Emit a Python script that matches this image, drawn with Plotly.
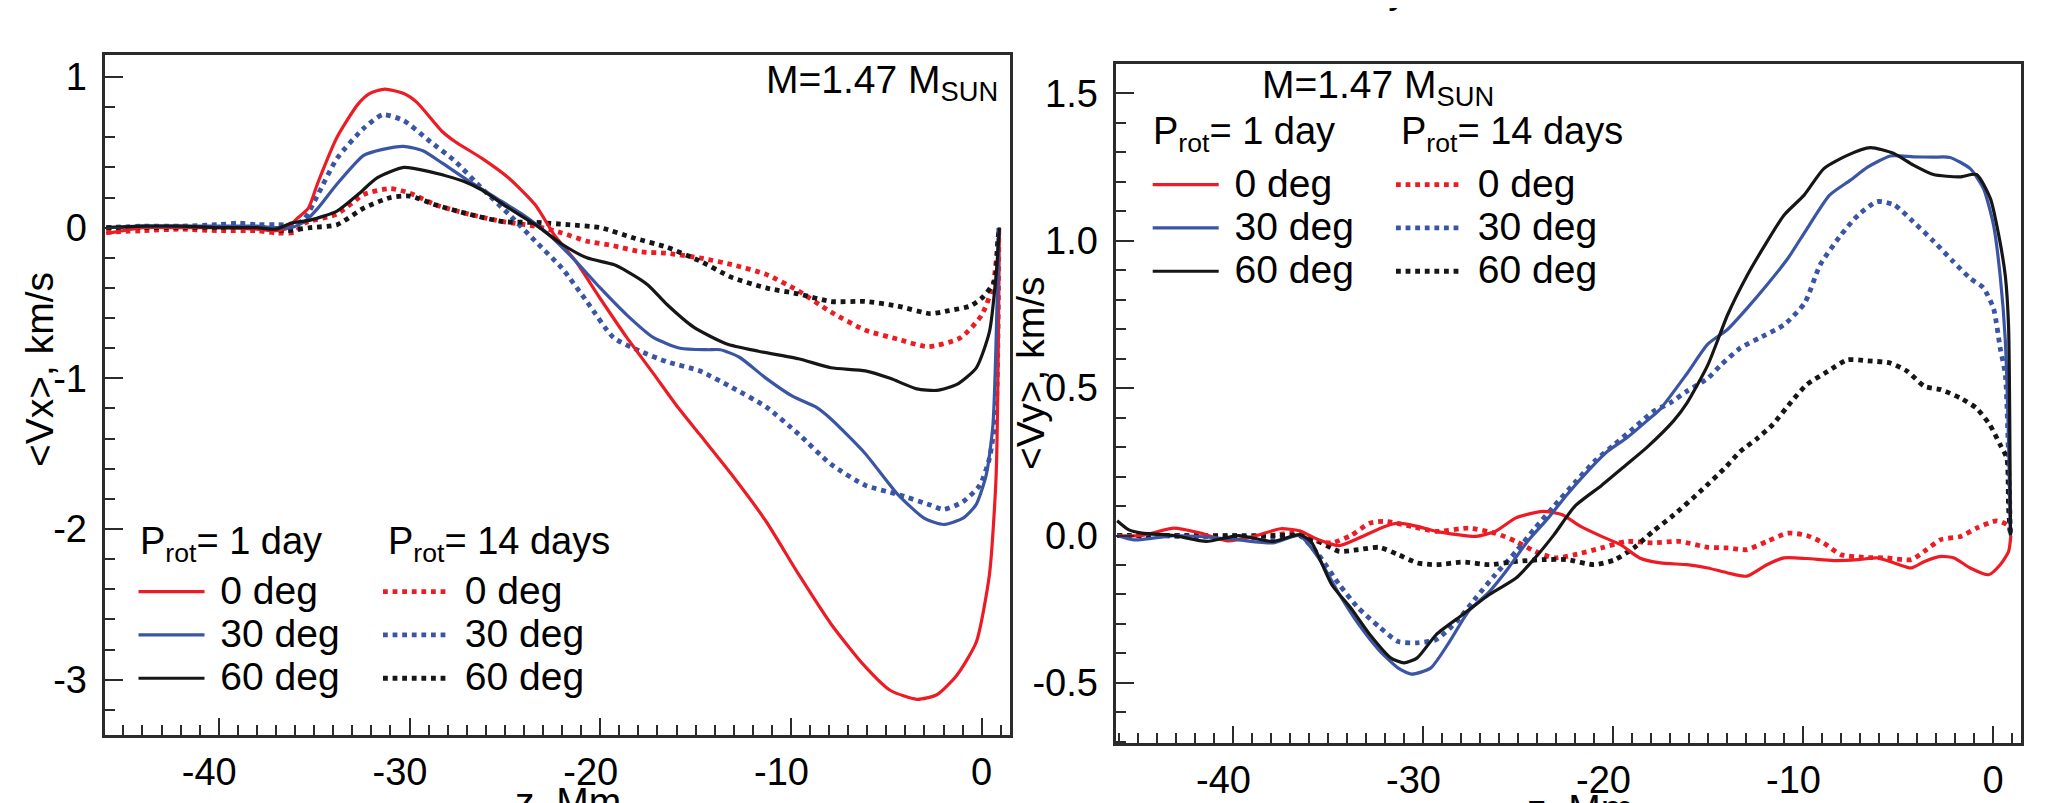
import plotly.graph_objects as go

W, H = 2066, 803
FONT = "Liberation Sans, Arial, sans-serif"
RED = "#ED1C24"
BLUE = "#3B55A5"
BLACK = "#161616"
FRAME = "#2b2b2b"

# ---------------- left panel: <Vx>, km/s ----------------
vx_z_1d_0 = [-45.9, -44, -42, -40, -38, -37, -36.5, -35.9, -35.3, -34.8, -33.8, -32.7, -32.1, -31.3, -30.3, -29.6,
             -28.3, -27.6, -26.2, -24.8, -23.4, -22.4, -21.3, -20.0, -18.6, -17.2, -16.0, -14.8, -13.1, -11.3,
             -9.6, -7.9, -6.2, -4.8, -3.4, -2.35, -1.3, -0.28, 0.41, 0.76, 0.93]
vx_1d_0 = [-0.04, 0.0, 0.0, 0.0, -0.01, -0.02, -0.01, 0.06, 0.13, 0.30, 0.60, 0.82, 0.89, 0.92, 0.89, 0.83,
           0.64, 0.57, 0.46, 0.33, 0.15, -0.05, -0.22, -0.47, -0.73, -0.97, -1.18, -1.37, -1.64, -1.95,
           -2.30, -2.63, -2.90, -3.07, -3.13, -3.10, -2.97, -2.75, -2.30, -1.64, 0.0]

vx_z_1d_30 = [-45.9, -44, -42, -40, -38, -37, -36.2, -35.5, -34.8, -33.8, -32.4, -31.4, -30.3, -29.3, -28.3,
              -26.9, -25.5, -24.1, -22.7, -21.3, -20.0, -18.6, -17.2, -15.8, -14.4, -13.7, -12.7, -11.3, -9.9,
              -8.7, -7.9, -6.1, -4.4, -3.0, -2.0, -1.0, -0.3, 0.24, 0.59, 0.9]
vx_1d_30 = [0.0, 0.01, 0.01, 0.01, 0.01, 0.0, 0.0, 0.04, 0.13, 0.29, 0.48, 0.52, 0.54, 0.51, 0.43,
            0.31, 0.20, 0.09, -0.045, -0.22, -0.40, -0.58, -0.73, -0.80, -0.81, -0.81, -0.86, -1.0, -1.12,
            -1.19, -1.27, -1.50, -1.77, -1.93, -1.97, -1.93, -1.84, -1.64, -1.31, 0.0]

vx_z_1d_60 = [-45.9, -44, -42, -40, -38, -37, -36.2, -35.2, -33.8, -32.7, -31.7, -30.3, -28.9, -27.2, -26.2,
              -24.8, -23.4, -22.0, -20.7, -19.3, -18.6, -17.5, -16.5, -15.1, -13.4, -11.7, -9.6, -7.9, -6.1,
              -4.8, -3.4, -2.35, -1.3, -0.28, 0.41, 0.76, 0.93]
vx_1d_60 = [0.0, 0.01, 0.01, 0.0, 0.0, -0.01, 0.03, 0.05, 0.11, 0.22, 0.33, 0.40, 0.37, 0.31, 0.25,
            0.13, 0.02, -0.11, -0.20, -0.245, -0.29, -0.38, -0.51, -0.66, -0.77, -0.82, -0.87, -0.93, -0.95,
            -1.0, -1.07, -1.08, -1.04, -0.93, -0.69, -0.31, 0.0]

vx_z_14d_0 = [-45.9, -44, -42, -40, -38, -37, -36, -35.5, -33.8, -32.4, -31.0, -30.0, -28.6, -26.9, -25.1,
              -23.4, -22.0, -20.7, -19.3, -17.9, -16.5, -14.8, -13.1, -11.3, -9.6, -7.9, -6.1, -4.4, -2.8,
              -1.1, 0.0, 0.6, 0.85, 0.93]
vx_14d_0 = [-0.03, -0.02, -0.01, -0.02, -0.02, -0.035, -0.03, 0.03, 0.09, 0.22, 0.26, 0.23, 0.15, 0.09, 0.04,
            0.01, -0.035, -0.09, -0.12, -0.16, -0.17, -0.20, -0.245, -0.31, -0.42, -0.56, -0.68, -0.74, -0.79,
            -0.73, -0.58, -0.38, -0.10, 0.0]

vx_z_14d_30 = [-45.9, -44, -42, -40, -39, -38, -37, -36, -35.5, -34.8, -33.8, -32.4, -31.4, -30.3, -28.9,
               -27.6, -26.2, -24.8, -23.4, -22.0, -20.7, -19.3, -17.9, -16.5, -14.8, -13.1, -11.3, -9.6, -7.9,
               -6.1, -4.4, -2.7, -2.0, -1.0, -0.1, 0.41, 0.76, 0.9]
vx_14d_30 = [0.0, 0.01, 0.01, 0.02, 0.03, 0.02, 0.02, 0.02, 0.06, 0.22, 0.46, 0.66, 0.75, 0.71, 0.57,
             0.44, 0.26, 0.09, -0.09, -0.27, -0.49, -0.73, -0.82, -0.89, -0.95, -1.06, -1.19, -1.37, -1.57,
             -1.71, -1.77, -1.84, -1.87, -1.82, -1.71, -1.53, -1.20, 0.0]

vx_z_14d_60 = [-45.9, -44, -42, -40, -38, -36.5, -35.2, -33.8, -32.4, -31.0, -30.0, -28.6, -26.9, -25.1, -23.4,
               -21.7, -20.0, -18.2, -16.5, -14.8, -13.1, -11.3, -9.6, -7.9, -6.1, -4.4, -2.7, -1.7, -0.6,
               0.07, 0.69, 0.85, 0.93]
vx_14d_60 = [0.0, 0.0, 0.0, 0.0, 0.0, -0.02, 0.0, 0.02, 0.13, 0.20, 0.21, 0.15, 0.09, 0.04, 0.035,
             0.02, 0.0, -0.07, -0.13, -0.22, -0.33, -0.40, -0.44, -0.49, -0.49, -0.52, -0.57, -0.55, -0.52,
             -0.46, -0.35, -0.08, 0.0]

# ---------------- right panel: <Vy>, km/s ----------------
vy_z_1d_0 = [-46.1, -44.8, -43.1, -41.7, -40.3, -38.9, -37.5, -36.5, -35.5, -34.4, -33.4, -32.0, -31.3, -30.3,
             -29.3, -28.2, -27.2, -26.2, -25.1, -23.7, -22.7, -21.7, -20.6, -19.6, -18.6, -17.5, -16.1, -15.0,
             -13.96, -12.96, -11.9, -11.0, -9.8, -8.4, -7.1, -6.1, -5.2, -4.3, -3.6, -2.75, -2.05, -1.2,
             -0.23, 0.38, 0.82, 0.94]
vy_1d_0 = [0.0, 0.0, 0.025, 0.008, -0.018, -0.003, 0.023, 0.016, -0.014, -0.034, -0.009, 0.031, 0.042, 0.031,
           0.014, 0.003, -0.003, 0.014, 0.06, 0.082, 0.071, 0.031, -0.003, -0.031, -0.076, -0.093, -0.099, -0.11,
           -0.127, -0.138, -0.099, -0.076, -0.078, -0.085, -0.082, -0.076, -0.093, -0.11, -0.088, -0.071, -0.076, -0.11,
           -0.133, -0.099, -0.054, 0.0]

vy_z_1d_30 = [-46.1, -45.2, -43.1, -41.4, -39.7, -37.9, -36.5, -35.5, -34.4, -33.4, -32.3, -31.3, -30.6, -29.6,
              -28.6, -27.6, -26.5, -25.5, -24.5, -23.4, -22.4, -21.3, -20.3, -19.3, -18.2, -17.5, -16.1, -15.0,
              -13.96, -12.96, -11.9, -10.8, -9.8, -8.6, -7.5, -6.6, -5.4, -4.19, -3.14, -2.26, -1.2, -0.5,
              0.03, 0.38, 0.65, 0.82, 0.92]
vy_1d_30 = [0.0, -0.015, 0.0, -0.005, -0.015, -0.025, 0.0, -0.076, -0.20, -0.30, -0.39, -0.45, -0.47, -0.45,
            -0.36, -0.257, -0.19, -0.11, -0.02, 0.06, 0.14, 0.22, 0.285, 0.33, 0.39, 0.43, 0.55, 0.65,
            0.70, 0.77, 0.85, 0.94, 1.04, 1.155, 1.206, 1.25, 1.288, 1.285, 1.284, 1.283, 1.245, 1.177,
            1.053, 0.88, 0.66, 0.32, 0.0]

vy_z_1d_60 = [-46.1, -45.5, -44.8, -43.1, -41.4, -39.7, -37.9, -36.5, -35.9, -34.8, -33.8, -32.8, -31.7, -31.0,
              -30.3, -29.3, -27.9, -26.5, -25.1, -24.1, -23.1, -22.0, -20.6, -19.3, -18.2, -16.8, -16.1, -15.0,
              -13.96, -12.96, -12.1, -11.0, -9.94, -8.9, -7.67, -6.45, -5.24, -4.19, -3.14, -1.75, -0.87, -0.14,
              0.3, 0.65, 0.82, 0.88, 0.92]
vy_1d_60 = [0.05, 0.02, 0.008, 0.0, -0.02, 0.0, -0.02, 0.003, -0.02, -0.167, -0.246, -0.336, -0.415, -0.432,
            -0.415, -0.336, -0.268, -0.20, -0.144, -0.076, 0.003, 0.10, 0.17, 0.24, 0.30, 0.39, 0.45, 0.58,
            0.75, 0.88, 0.975, 1.087, 1.155, 1.245, 1.29, 1.316, 1.297, 1.257, 1.225, 1.217, 1.225, 1.144,
            1.02, 0.88, 0.71, 0.40, 0.0]

vy_z_14d_0 = [-46.1, -44, -42, -40, -38, -36.5, -35.5, -34.8, -33.8, -32.8, -32.0, -30.6, -29.3, -27.6, -26.2,
              -25.1, -24.1, -23.1, -22.0, -20.6, -19.3, -17.9, -16.5, -15.0, -13.96, -12.96, -11.9, -10.8, -9.8,
              -8.9, -8.0, -6.8, -5.6, -4.3, -3.5, -2.75, -1.7, -0.87, 0.2, 0.73, 0.94]
vy_14d_0 = [0.0, 0.0, 0.0, -0.01, 0.0, 0.01, -0.02, -0.025, 0.0, 0.042, 0.048, 0.031, 0.014, 0.025, 0.008,
            -0.02, -0.054, -0.076, -0.065, -0.042, -0.02, -0.025, -0.02, -0.04, -0.042, -0.048, -0.02, 0.008, 0.0,
            -0.026, -0.065, -0.074, -0.076, -0.082, -0.048, -0.014, -0.003, 0.025, 0.05, 0.037, 0.014]

vy_z_14d_30 = [-46.1, -44, -42, -40, -38, -36.5, -35.5, -34.4, -33.4, -32.3, -31.3, -30.3, -29.3, -28.2, -27.2,
               -26.2, -25.1, -24.1, -23.1, -22.0, -21.0, -19.9, -18.9, -17.9, -17.0, -16.1, -15.0, -14.3, -13.3,
               -12.3, -11.0, -9.9, -9.1, -8.0, -7.1, -6.1, -5.2, -4.2, -3.1, -2.1, -1.2, -0.5, 0.03,
               0.38, 0.65, 0.82, 0.92]
vy_14d_30 = [0.0, 0.0, -0.005, 0.0, -0.01, 0.0, -0.065, -0.167, -0.246, -0.31, -0.36, -0.364, -0.353, -0.29, -0.21,
             -0.133, -0.054, 0.025, 0.10, 0.18, 0.25, 0.31, 0.365, 0.42, 0.45, 0.49, 0.534, 0.58, 0.636,
             0.67, 0.715, 0.79, 0.918, 1.02, 1.087, 1.133, 1.122, 1.065, 0.997, 0.93, 0.873, 0.84, 0.77,
             0.636, 0.545, 0.26, 0.0]

vy_z_14d_60 = [-46.1, -44, -42, -40, -38, -36.5, -35.5, -34.4, -33.4, -32.3, -31.3, -30.3, -29.3, -27.9, -26.5,
               -25.1, -23.7, -22.4, -21.0, -19.9, -18.9, -17.9, -16.8, -15.4, -14.1, -13.3, -12.4, -11.6, -10.6,
               -9.8, -8.7, -7.67, -6.6, -5.4, -4.5, -3.6, -2.75, -1.7, -0.87, -0.17, 0.38, 0.73, 0.82, 0.92]
vy_14d_60 = [0.0, 0.0, 0.0, 0.0, 0.0, 0.0, -0.02, -0.054, -0.048, -0.04, -0.065, -0.093, -0.099, -0.09, -0.099,
             -0.088, -0.082, -0.082, -0.099, -0.082, -0.042, 0.014, 0.07, 0.15, 0.23, 0.285, 0.33, 0.376, 0.455,
             0.512, 0.557, 0.596, 0.593, 0.585, 0.557, 0.506, 0.495, 0.466, 0.432, 0.376, 0.308, 0.262, 0.093, 0.0]

# ---------------- labels / ticks ----------------
angle_names = ["0 deg", "30 deg", "60 deg"]
legend_titles = ["P<sub>rot</sub>= 1 day", "P<sub>rot</sub>= 14 days"]
x_tickvals = [-40, -30, -20, -10, 0]
x_ticktext = ["-40\u2002", "-30\u2002", "-20\u2002", "-10\u2002", "0"]
vx_tickvals = [1, 0, -1, -2, -3]
vx_ticktext = ["1", "0", "-1", "-2", "-3"]
vy_tickvals = [1.5, 1.0, 0.5, 0.0, -0.5]
vy_ticktext = ["1.5", "1.0", "0.5", "0.0", "-0.5"]
mass_label = "M=1.47 M<sub>SUN</sub>"
x_title = "z, Mm"
vx_title = "&lt;Vx&gt;, km/s"
vy_title = "&lt;Vy&gt;, km/s"
top_title_fragment = "&lt;Vy&gt;"

fig = go.Figure()

colors = [RED, BLUE, BLACK]
left_sets = [
    (vx_z_1d_0, vx_1d_0, vx_z_14d_0, vx_14d_0),
    (vx_z_1d_30, vx_1d_30, vx_z_14d_30, vx_14d_30),
    (vx_z_1d_60, vx_1d_60, vx_z_14d_60, vx_14d_60),
]
right_sets = [
    (vy_z_1d_0, vy_1d_0, vy_z_14d_0, vy_14d_0),
    (vy_z_1d_30, vy_1d_30, vy_z_14d_30, vy_14d_30),
    (vy_z_1d_60, vy_1d_60, vy_z_14d_60, vy_14d_60),
]

SOLID_W = 3.2
DOT_W = 4.8
TXT = 39   # text size of labels
HDR = 38   # legend header size


def entry(name):
    return "<span style='font-size:%dpx'>\u00a0%s</span>" % (TXT, name)


for sets, xa, ya, lg1, lg2 in [(left_sets, "x", "y", "legend", "legend2"),
                               (right_sets, "x2", "y2", "legend3", "legend4")]:
    for i, (z1, v1, z14, v14) in enumerate(sets):
        fig.add_trace(go.Scatter(x=z14, y=v14, mode="lines", name=entry(angle_names[i]), legend=lg2,
                                 xaxis=xa, yaxis=ya, hoverinfo="skip",
                                 line=dict(color=colors[i], width=DOT_W, dash="dot", shape="spline", smoothing=0.6)))
    for i, (z1, v1, z14, v14) in enumerate(sets):
        fig.add_trace(go.Scatter(x=z1, y=v1, mode="lines", name=entry(angle_names[i]), legend=lg1,
                                 xaxis=xa, yaxis=ya, hoverinfo="skip",
                                 line=dict(color=colors[i], width=SOLID_W, dash="solid", shape="spline", smoothing=0.6)))


def px(x):
    return x / W


def py(y):
    return 1 - y / H


tickfont = dict(family=FONT, size=38, color="black")
common_axis = dict(showline=True, mirror=True, linewidth=2.5, linecolor=FRAME, showgrid=False, zeroline=False,
                   ticks="inside", tickwidth=2, tickcolor=FRAME, tickfont=tickfont, fixedrange=True)

fig.update_layout(
    width=W, height=H, autosize=False,
    margin=dict(l=0, r=0, t=0, b=0),
    paper_bgcolor="white", plot_bgcolor="white",
    font=dict(family=FONT, color="black"),
    showlegend=True,
    xaxis=dict(domain=[px(97.3), px(1001.7)], range=[-45.95, 1.47], anchor="y",
               tickmode="array", tickvals=x_tickvals, ticktext=x_ticktext, ticklen=17, ticklabelstandoff=2,
               minor=dict(dtick=1, tick0=0, ticks="inside", ticklen=10, tickwidth=2, tickcolor=FRAME),
               **common_axis),
    yaxis=dict(domain=[py(727), py(47.3)], range=[-3.367, 1.144], anchor="x",
               tickmode="array", tickvals=vx_tickvals, ticktext=vx_ticktext, ticklen=18, ticklabelstandoff=8,
               minor=dict(dtick=0.2, tick0=0, ticks="inside", ticklen=10, tickwidth=2, tickcolor=FRAME),
               **common_axis),
    xaxis2=dict(domain=[px(1108.3), px(2013.3)], range=[-46.14, 1.49], anchor="y2",
                tickmode="array", tickvals=x_tickvals, ticktext=x_ticktext, ticklen=17, ticklabelstandoff=2,
                minor=dict(dtick=1, tick0=0, ticks="inside", ticklen=10, tickwidth=2, tickcolor=FRAME),
                **common_axis),
    yaxis2=dict(domain=[py(735), py(56)], range=[-0.704, 1.600], anchor="x2",
                tickmode="array", tickvals=vy_tickvals, ticktext=vy_ticktext, ticklen=18, ticklabelstandoff=8,
                minor=dict(dtick=0.1, tick0=0, ticks="inside", ticklen=10, tickwidth=2, tickcolor=FRAME),
                **common_axis),
)

leg_common = dict(xanchor="left", yanchor="top", bgcolor="rgba(0,0,0,0)", borderwidth=0,
                  font=dict(family=FONT, size=31, color="black"), itemwidth=66,
                  traceorder="normal", itemclick=False, itemdoubleclick=False, tracegroupgap=0)
fig.update_layout(
    legend=dict(x=px(125.5), y=py(557), **leg_common),
    legend2=dict(x=px(370), y=py(557), **leg_common),
    legend3=dict(x=px(1139.7), y=py(150), **leg_common),
    legend4=dict(x=px(1383), y=py(150), **leg_common),
)

tfont = dict(family=FONT, size=TXT, color="black")
hfont = dict(family=FONT, size=HDR, color="black")


def note(text, x, y, xanchor="left", yanchor="top", font=None, **kw):
    return dict(text=text, x=px(x), y=py(y), xref="paper", yref="paper", xanchor=xanchor, yanchor=yanchor,
                showarrow=False, font=font or tfont, **kw)


ann = [
    note(mass_label, 992, 48, xanchor="right"),
    note(mass_label, 1252, 53),
    note(legend_titles[0], 130, 510, font=hfont),
    note(legend_titles[1], 378, 510, font=hfont),
    note(legend_titles[0], 1143, 100, font=hfont),
    note(legend_titles[1], 1391, 100, font=hfont),
    note(vx_title, 31, 362, xanchor="center", yanchor="middle", textangle=-90),
    note(vy_title, 1022, 365, xanchor="center", yanchor="middle", textangle=-90),
    note(x_title, 560, 770, xanchor="center"),
    note(x_title, 1572, 777, xanchor="center"),
    note(top_title_fragment, 1378, -42, xanchor="center"),
]
fig.update_layout(annotations=ann)

fig.write_html("out.html")
